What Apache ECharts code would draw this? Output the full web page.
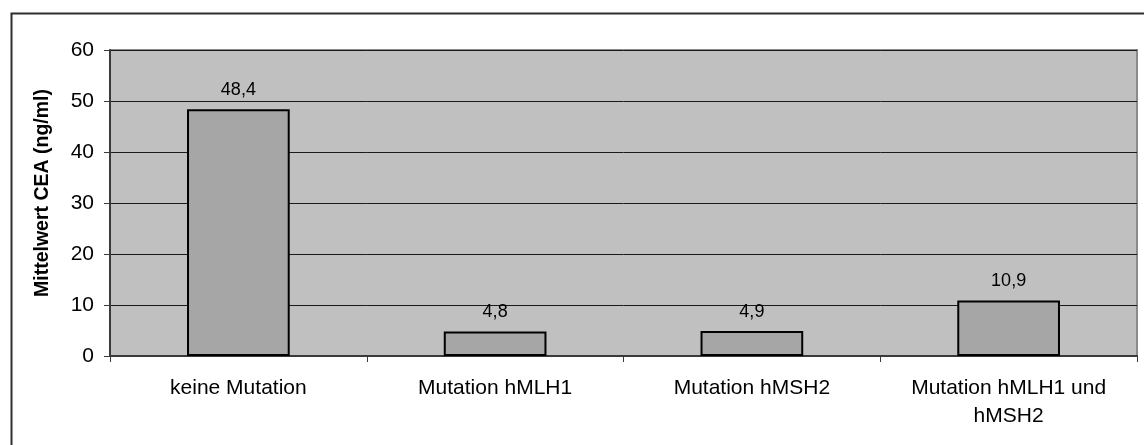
<!DOCTYPE html>
<html>
<head>
<meta charset="utf-8">
<script src="https://cdn.jsdelivr.net/npm/echarts@6/dist/echarts.min.js"></script>
<style>
html,body{margin:0;padding:0;background:#fff;}
#chart{width:1144px;height:445px;}
</style>
</head>
<body>
<div id="chart"></div>
<script>
const categories = ['keine Mutation', 'Mutation hMLH1', 'Mutation hMSH2', 'Mutation hMLH1 und\nhMSH2'];
const values = [48.4, 4.8, 4.9, 10.9];
const yTitle = 'Mittelwert CEA (ng/ml)';
const yMin = 0, yMax = 60, yStep = 10;

const chart = echarts.init(document.getElementById('chart'), null, {renderer: 'canvas'});
chart.setOption({
  animation: false,
  backgroundColor: '#ffffff',
  textStyle: {fontFamily: 'Liberation Sans, Arial, sans-serif', color: '#000'},
  graphic: [{
    type: 'rect', left: 9, top: 11, z: 100,
    shape: {width: 1300, height: 600},
    style: {fill: 'none', stroke: '#2e2e2e', lineWidth: 2}
  }],
  grid: {
    left: 110, right: 7, top: 50, bottom: 89,
    show: true, backgroundColor: '#c0c0c0', borderColor: '#8a8a8a', borderWidth: 2
  },
  xAxis: {
    type: 'category',
    data: categories,
    boundaryGap: true,
    axisLine: {show: true, lineStyle: {color: '#3a3a3a', width: 2}},
    axisTick: {show: true, length: 6, alignWithLabel: false, lineStyle: {color: '#3a3a3a', width: 1}},
    axisLabel: {
      interval: 0, margin: 18, fontSize: 21, lineHeight: 28, color: '#000',
      fontFamily: 'Liberation Sans, Arial, sans-serif'
    },
    splitLine: {show: false}
  },
  yAxis: {
    type: 'value',
    min: yMin, max: yMax, interval: yStep,
    name: yTitle,
    nameLocation: 'middle',
    nameRotate: 90,
    nameGap: 57,
    nameTextStyle: {fontSize: 19.5, fontWeight: 'bold', color: '#000', fontFamily: 'Liberation Sans, Arial, sans-serif', padding: [0, 0, 0, 20]},
    axisLine: {show: true, lineStyle: {color: '#3a3a3a', width: 2}},
    axisTick: {show: true, length: 6, lineStyle: {color: '#3a3a3a', width: 1}},
    axisLabel: {margin: 16, fontSize: 21, color: '#000', fontFamily: 'Liberation Sans, Arial, sans-serif'},
    splitLine: {show: true, lineStyle: {color: '#1a1a1a', width: 1}}
  },
  series: [{
    type: 'bar',
    data: values,
    barWidth: '40%',
    itemStyle: {color: '#a6a6a6', borderColor: '#000', borderWidth: 2},
    label: {
      show: true, position: 'top', distance: 10,
      fontSize: 18, color: '#000', fontFamily: 'Liberation Sans, Arial, sans-serif',
      formatter: p => String(p.value).replace('.', ',')
    }
  }]
});
</script>
</body>
</html>
